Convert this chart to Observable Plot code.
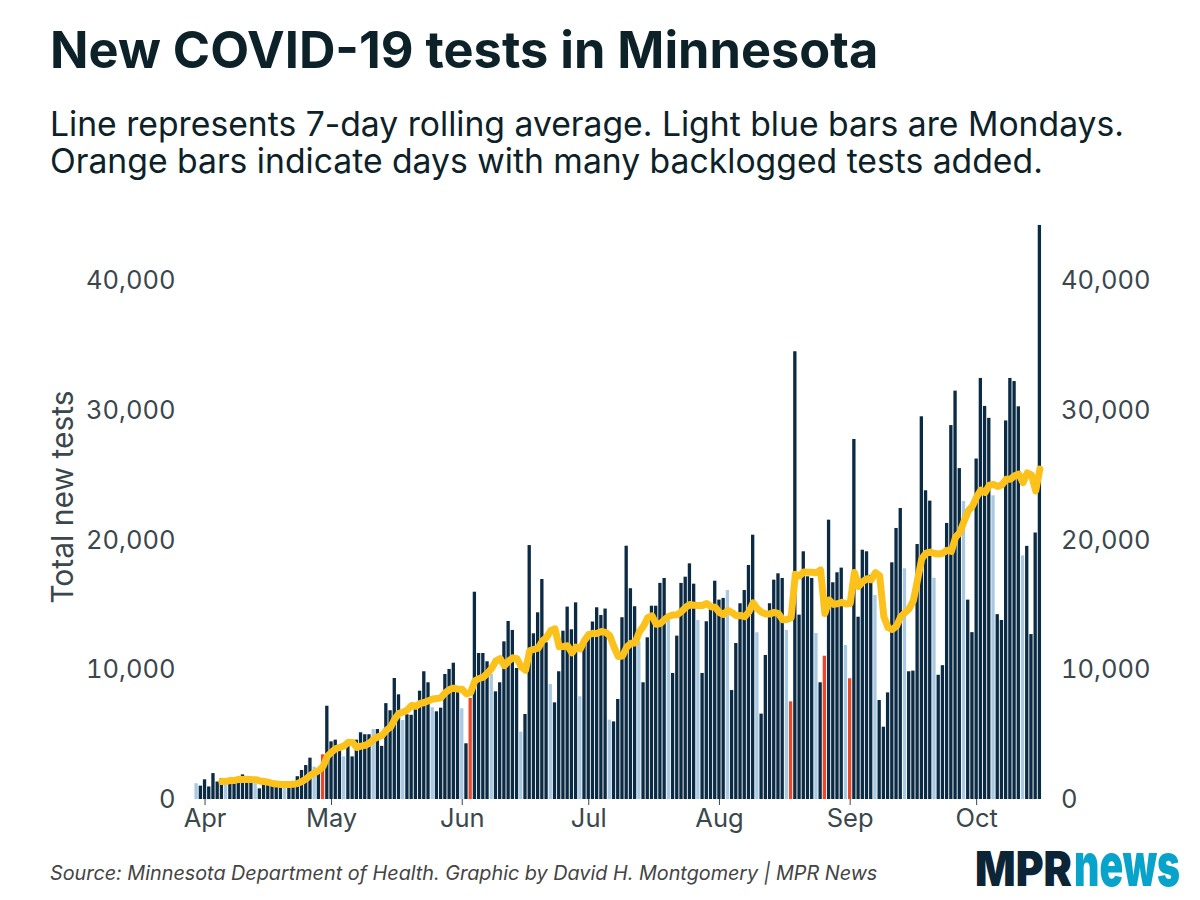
<!DOCTYPE html>
<html>
<head>
<meta charset="utf-8">
<script src="https://cdn.jsdelivr.net/npm/d3@7"></script>
<script src="https://cdn.jsdelivr.net/npm/@observablehq/plot@0.6"></script>
<style>
  html, body { margin: 0; padding: 0; background: #fff; }
  body { width: 1200px; height: 900px; position: relative; overflow: hidden; font-family: Inter, "Noto Sans", sans-serif; }
  #title { position: absolute; left: 50px; top: 20px; font-weight: 700; font-size: 50.5px; line-height: 1.2; color: #0c2228; white-space: nowrap; }
  #subtitle { position: absolute; left: 50px; top: 105px; font-weight: 400; font-size: 33.7px; line-height: 37px; color: #0c2228; white-space: nowrap; }
  #chart { position: absolute; left: 0; top: 200px; }
  #ylabel { position: absolute; left: 62px; top: 497px; transform: translate(-50%, -50%) rotate(-90deg); font-size: 30px; color: #3a474c; white-space: nowrap; }
  #source { position: absolute; left: 50px; top: 861px; font-style: italic; font-size: 19.8px; color: #444; white-space: nowrap; }
  #logo { position: absolute; left: 972px; top: 800px; overflow: visible; }
  #logo text { font-family: Inter, "Noto Sans", sans-serif; font-weight: 900; }
</style>
</head>
<body>
<div id="title">New COVID-19 tests in Minnesota</div>
<div id="subtitle">Line represents 7-day rolling average. Light blue bars are Mondays.<br>Orange bars indicate days with many backlogged tests added.</div>
<div id="chart"></div>
<div id="ylabel">Total new tests</div>
<div id="source">Source: Minnesota Department of Health. Graphic by David H. Montgomery | MPR News</div>
<svg id="logo" width="222" height="100">
  <text transform="translate(3,86) scale(1,1.17)" font-size="41" fill="#0b2436" textLength="97" lengthAdjust="spacingAndGlyphs">MPR</text>
  <text transform="translate(102,86) scale(1,1.62)" font-size="37" fill="#07a3cb" textLength="106" lengthAdjust="spacingAndGlyphs">news</text>
</svg>
<script>
// First reporting day of the daily series (one value per day after it)
const startDate = "2020-03-30";
const endDate = "2020-10-16";

// Daily new tests, Mar 30 – Oct 16, 2020
const newTests = [
  1220, 1030, 1520, 970, 2000, 1350, 1620,
  1300, 1500, 1550, 1600, 1900, 1500, 1450,
  1220, 820, 1200, 1250, 1200, 1200, 1200,
  1250, 850, 1250, 1760, 2240, 2620, 3190,
  2500, 2150, 3450, 7200, 4450, 4580, 3860,
  3290, 4120, 3290, 4580, 5150, 5000, 5000,
  5400, 5400, 4100, 7400, 6850, 9340, 8080,
  6100, 6540, 6500, 6950, 8360, 9860, 9010,
  7080, 6770, 7050, 9650, 10040, 10520, 8500,
  7000, 4300, 7800, 16000, 11270, 11270, 10630,
  9650, 8310, 9010, 12170, 13740, 13050, 10110,
  5200, 6560, 19600, 12790, 14410, 16980, 12100,
  8880, 7460, 9860, 12990, 14850, 13100, 15180,
  7930, 12100, 12900, 13700, 14800, 14200, 14700,
  6120, 5990, 7720, 14030, 19550, 16270, 14880,
  12170, 9010, 12480, 14920, 14920, 16680, 17060,
  13950, 9730, 12610, 16680, 17160, 18190, 16620,
  13820, 9730, 13720, 14920, 16850, 15390, 15520,
  16130, 8410, 12040, 15110, 16130, 18060, 20400,
  12870, 6590, 11120, 15110, 16930, 17420, 17060,
  13050, 7540, 34560, 14230, 19120, 17190, 17060,
  12810, 9010, 11060, 21560, 16730, 17500, 17860,
  11890, 9320, 27790, 14070, 19240, 19120, 17300,
  15750, 7640, 5580, 8230, 18270, 20920, 22460,
  17810, 9860, 9910, 19680, 29540, 23830, 23030,
  17080, 9590, 10330, 21310, 28860, 31520, 25540,
  23000, 15390, 12880, 26280, 32500, 30340, 29420,
  23440, 14270, 13820, 29220, 32500, 32260, 30310,
  18800, 19540, 12730, 20570, 44310
];

// Days with many backlogged tests added (orange bars)
const backlogDates = ["2020-04-29", "2020-06-03", "2020-08-18", "2020-08-26", "2020-09-01"];

// Axis ticks
const monthTicks = ["2020-04-01", "2020-05-01", "2020-06-01", "2020-07-01", "2020-08-01", "2020-09-01", "2020-10-01"];
const yTicks = [0, 10000, 20000, 30000, 40000];

// Bar categories and colours
const kinds = ["Other day", "Monday", "Backlog"];
const kindColors = ["#0b2a44", "#a9c9e3", "#e8492b"];

const parse = d3.utcParse("%Y-%m-%d");
const fmt = d3.utcFormat("%Y-%m-%d");
const start = parse(startDate);
const end = parse(endDate);

const data = newTests.map((v, i) => {
  const date = d3.utcDay.offset(start, i);
  const key = fmt(date);
  const kind = backlogDates.includes(key) ? "Backlog" : (date.getUTCDay() === 1 ? "Monday" : "Other day");
  return {date, value: v, kind};
});

const halfDay = 12 * 3600 * 1000;

const chart = Plot.plot({
  width: 1200,
  height: 640,
  marginTop: 16,
  marginBottom: 41,
  marginLeft: 194,
  marginRight: 158.5,
  style: {fontFamily: "Inter, 'Noto Sans', sans-serif", fontSize: "25.5px", color: "#3a474c", background: "transparent", overflow: "visible"},
  x: {
    type: "utc",
    domain: [new Date(+start - halfDay), new Date(+end + halfDay)],
    ticks: monthTicks.map(parse),
    tickFormat: d3.utcFormat("%b"),
    tickSize: 6,
    tickPadding: 3,
    label: null
  },
  y: {
    domain: [0, 45000],
    axis: "both",
    ticks: yTicks,
    tickFormat: d3.format(","),
    tickSize: 0,
    tickPadding: 19,
    label: null
  },
  color: {domain: kinds, range: kindColors},
  marks: [
    Plot.rectY(data, {
      x1: d => new Date(+d.date - halfDay),
      x2: d => new Date(+d.date + halfDay),
      y: "value",
      fill: "kind",
      insetLeft: 0.45,
      insetRight: 0.45
    }),
    Plot.lineY(data, Plot.windowY({k: 7, anchor: "end", strict: true, reduce: "mean"}, {
      x: "date",
      y: "value",
      stroke: "#fcc21b",
      strokeWidth: 7,
      strokeLinejoin: "round",
      strokeLinecap: "round"
    }))
  ]
});
document.getElementById("chart").appendChild(chart);
</script>
</body>
</html>
